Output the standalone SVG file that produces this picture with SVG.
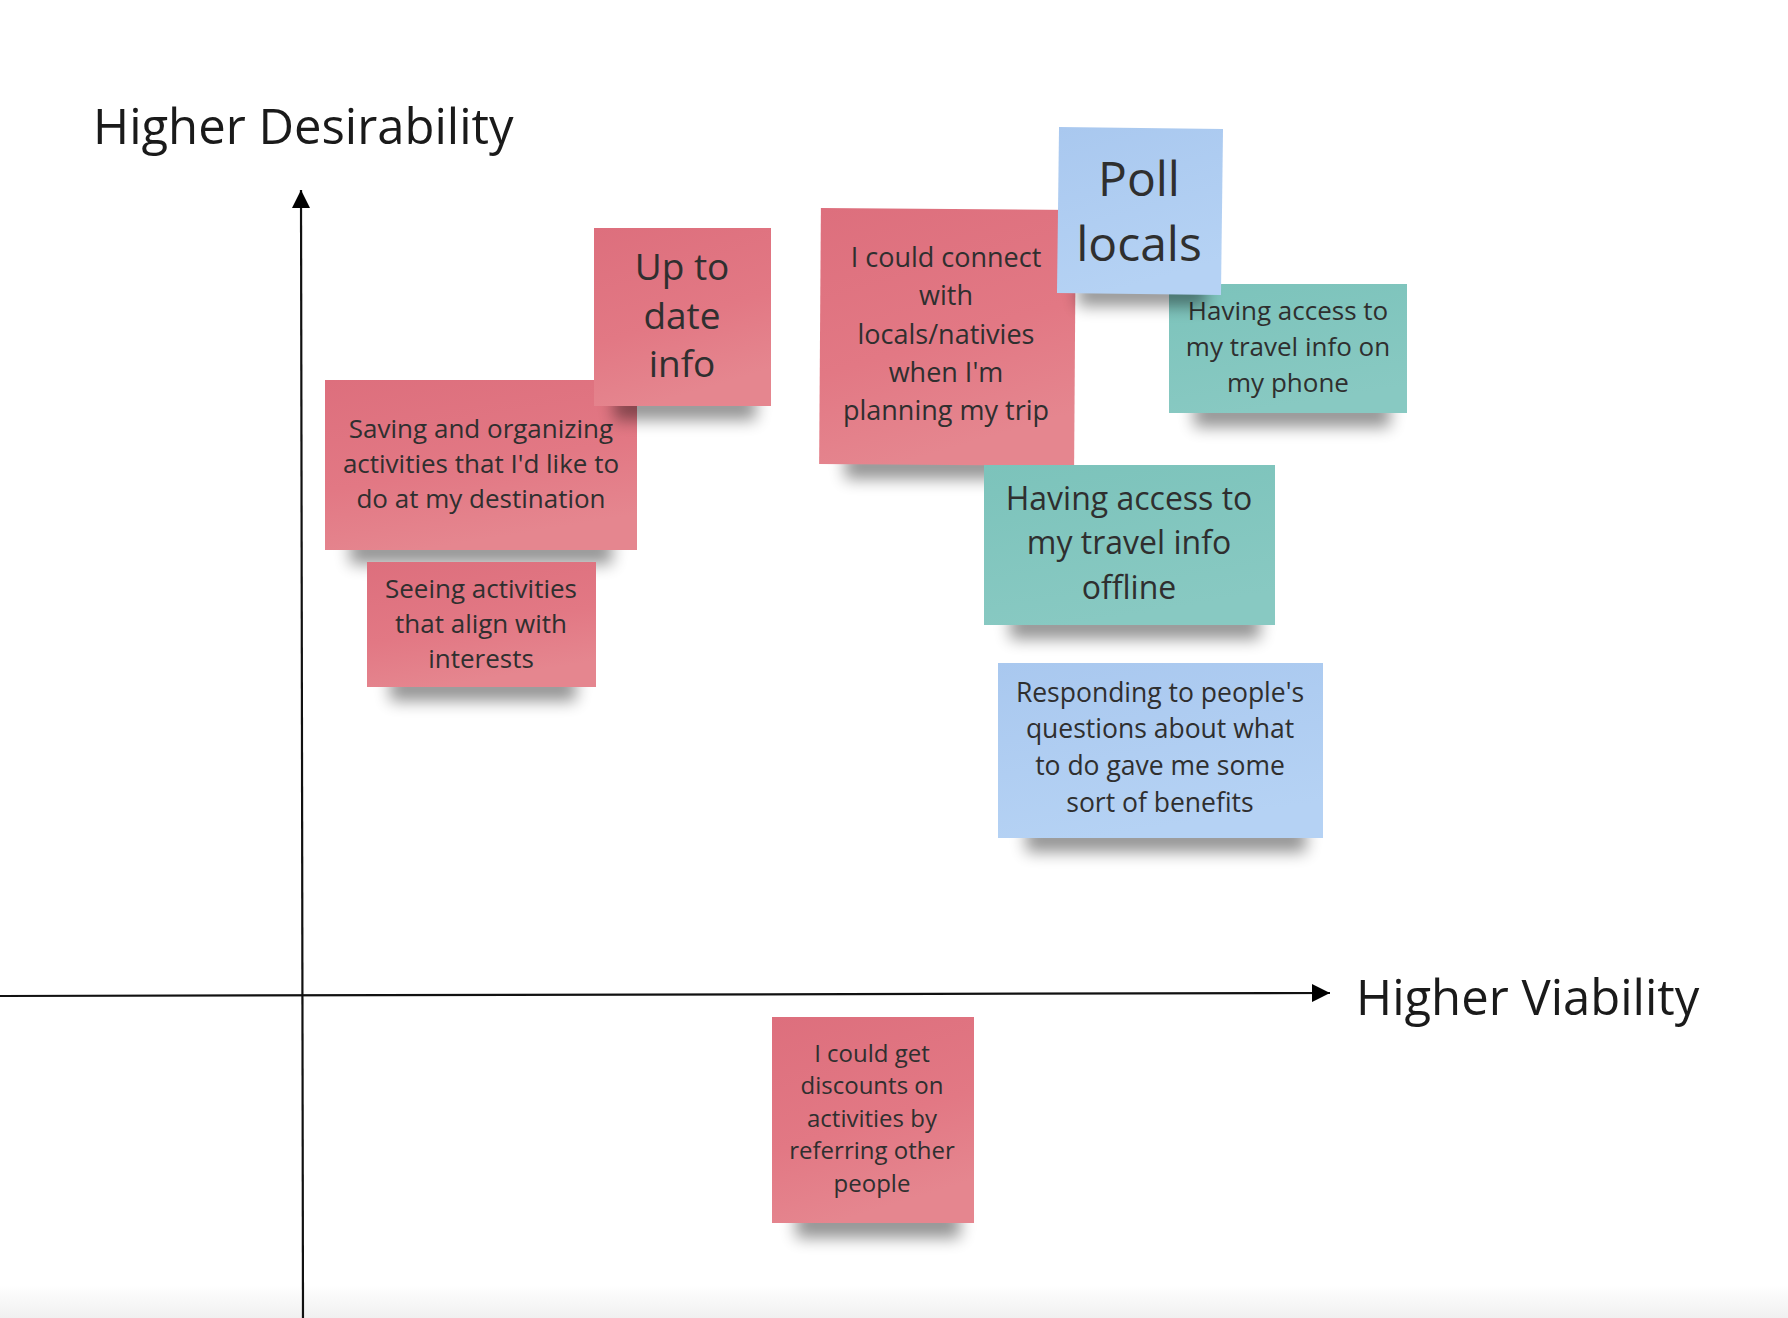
<svg xmlns="http://www.w3.org/2000/svg" width="1788" height="1318" viewBox="0 0 1788 1318">
<defs>
<linearGradient id="gRed" x1="0" y1="0" x2="0.3" y2="1"><stop offset="0" stop-color="#dd6f7d"/><stop offset="0.6" stop-color="#e27884"/><stop offset="1" stop-color="#e5868f"/></linearGradient>
<linearGradient id="gTeal" x1="0" y1="0" x2="0.3" y2="1"><stop offset="0" stop-color="#7cc3bb"/><stop offset="1" stop-color="#88c9c2"/></linearGradient>
<linearGradient id="gBlue" x1="0" y1="0" x2="0.3" y2="1"><stop offset="0" stop-color="#a9c8ef"/><stop offset="1" stop-color="#b5d2f4"/></linearGradient>
<linearGradient id="gFloor" x1="0" y1="0" x2="0" y2="1"><stop offset="0" stop-color="#ffffff"/><stop offset="1" stop-color="#f0f0f0"/></linearGradient>
<filter id="blur" x="-30%" y="-150%" width="160%" height="400%"><feGaussianBlur stdDeviation="8"/></filter>
<marker id="arrow" viewBox="0 0 10 10" refX="10" refY="5" markerWidth="18" markerHeight="18" markerUnits="userSpaceOnUse" orient="auto"><path d="M0,0 L10,5 L0,10 z" fill="#000"/></marker>
</defs>
<style>
.note-text{font-family:"Open Sans","Noto Sans","Liberation Sans",sans-serif;fill:#2f2f2f;text-anchor:middle}
.axis-label{font-family:"Open Sans","Noto Sans","Liberation Sans",sans-serif;fill:#1a1a1a;font-size:49px}
.axis{stroke:#111;stroke-width:2.2;fill:none}
.shadow{fill:#000;opacity:0.42;filter:url(#blur)}
.red{fill:url(#gRed)}
.teal{fill:url(#gTeal)}
.blue{fill:url(#gBlue)}
</style>
<rect x="0" y="0" width="1788" height="1318" fill="#ffffff"/>
<rect x="0" y="1285" width="1788" height="33" fill="url(#gFloor)"/>

<g id="axes">
<text class="axis-label" x="93" y="144">Higher Desirability</text>
<text class="axis-label" x="1356" y="1015">Higher Viability</text>
<g id="connectors">
<line class="axis" x1="303" y1="1318" x2="301" y2="190" marker-end="url(#arrow)"/>
<line class="axis" x1="0" y1="996" x2="1330" y2="993" marker-end="url(#arrow)"/>
</g>
</g>

<g id="saving">
<rect class="shadow" x="350" y="538" width="262" height="26"/>
<rect class="red" x="325" y="380" width="312" height="170"/>
<text class="note-text" font-size="26" x="481"><tspan x="481" y="438">Saving and organizing</tspan><tspan x="481" y="473">activities that I'd like to</tspan><tspan x="481" y="508">do at my destination</tspan></text>
</g>

<g id="up-to-date">
<rect class="shadow" x="614" y="394" width="142" height="26"/>
<rect class="red" x="594" y="228" width="177" height="178"/>
<text class="note-text" font-size="37"><tspan x="682" y="280">Up to</tspan><tspan x="682" y="329">date</tspan><tspan x="682" y="377">info</tspan></text>
</g>

<g id="seeing">
<rect class="shadow" x="390" y="675" width="186" height="26"/>
<rect class="red" x="367" y="562" width="229" height="125"/>
<text class="note-text" font-size="26"><tspan x="481" y="598">Seeing activities</tspan><tspan x="481" y="633">that align with</tspan><tspan x="481" y="668">interests</tspan></text>
</g>

<g id="connect-locals">
<rect class="shadow" x="845" y="453" width="212" height="26"/>
<rect class="red" x="820" y="209" width="255" height="256" transform="rotate(0.4 947 337)"/>
<text class="note-text" font-size="27"><tspan x="946" y="267">I could connect</tspan><tspan x="946" y="305">with</tspan><tspan x="946" y="344">locals/nativies</tspan><tspan x="946" y="382">when I'm</tspan><tspan x="946" y="420">planning my trip</tspan></text>
</g>

<g id="phone">
<rect class="shadow" x="1194" y="401" width="196" height="26"/>
<rect class="teal" x="1169" y="284" width="238" height="129"/>
<text class="note-text" font-size="26"><tspan x="1288" y="320">Having access to</tspan><tspan x="1288" y="356">my travel info on</tspan><tspan x="1288" y="392">my phone</tspan></text>
</g>

<g id="poll-locals">
<rect class="shadow" x="1078" y="282" width="128" height="24"/>
<rect class="blue" x="1058" y="128" width="164" height="166" transform="rotate(0.7 1140 211)"/>
<text class="note-text" font-size="48"><tspan x="1139" y="196">Poll</tspan><tspan x="1139" y="261">locals</tspan></text>
</g>

<g id="offline">
<rect class="shadow" x="1010" y="613" width="250" height="26"/>
<rect class="teal" x="984" y="465" width="291" height="160"/>
<text class="note-text" font-size="32"><tspan x="1129" y="510">Having access to</tspan><tspan x="1129" y="554">my travel info</tspan><tspan x="1129" y="599">offline</tspan></text>
</g>

<g id="responding">
<rect class="shadow" x="1026" y="826" width="280" height="26"/>
<rect class="blue" x="998" y="663" width="325" height="175"/>
<text class="note-text" font-size="26.5"><tspan x="1160" y="702">Responding to people's</tspan><tspan x="1160" y="738">questions about what</tspan><tspan x="1160" y="775">to do gave me some</tspan><tspan x="1160" y="812">sort of benefits</tspan></text>
</g>

<g id="discounts">
<rect class="shadow" x="796" y="1210" width="164" height="28"/>
<rect class="red" x="772" y="1017" width="202" height="206"/>
<text class="note-text" font-size="24"><tspan x="872" y="1062">I could get</tspan><tspan x="872" y="1094">discounts on</tspan><tspan x="872" y="1127">activities by</tspan><tspan x="872" y="1159">referring other</tspan><tspan x="872" y="1192">people</tspan></text>
</g>
</svg>
